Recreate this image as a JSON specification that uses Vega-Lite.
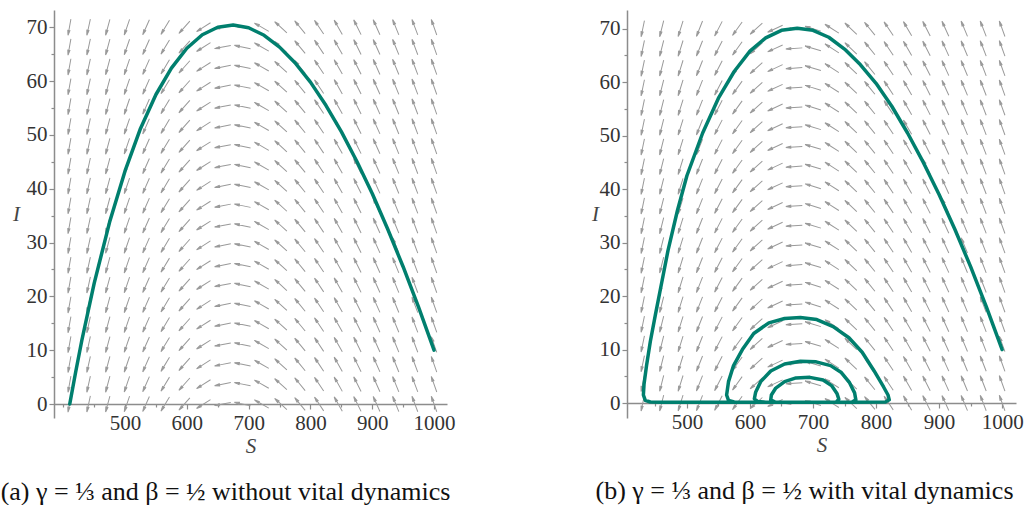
{
  "$schema": "https://vega.github.io/schema/vega-lite/v6.json",
  "background": "white",
  "padding": {"left": 0, "top": 10, "right": 0, "bottom": 0},
  "bounds": "flush",
  "spacing": 180,
  "config": {
    "view": {"stroke": null},
    "font": "Liberation Serif",
    "axis": {
      "grid": false,
      "labelFont": "Liberation Serif",
      "labelFontSize": 21,
      "labelColor": "#333333",
      "titleFont": "Liberation Serif",
      "titleFontStyle": "italic",
      "titleFontWeight": "normal",
      "titleFontSize": 21,
      "titleColor": "#444444",
      "domainColor": "#8c8c8c",
      "domainWidth": 1.5,
      "tickColor": "#8c8c8c",
      "tickWidth": 1.2
    }
  },
  "hconcat": [
    {
      "width": 393,
      "height": 408,
      "title": {"text": "(a) γ = ⅓ and β = ½ without vital dynamics", "orient": "bottom", "anchor": "middle", "font": "Liberation Serif", "fontSize": 26, "fontWeight": "normal", "color": "#111111", "offset": 23, "dx": -25},
      "resolve": {"axis": {"x": "independent", "y": "independent"}},
      "layer": [
        {
          "data": {"values": [
            {"S": 410, "a": 100.1, "I": [0,3.68,7.37,11.05,14.74,18.42,22.11,25.79,29.47,33.16,36.84,40.53,44.21,47.89,51.58,55.26,58.95,62.63,66.32,70]},
            {"S": 441, "a": 102.3, "I": [0,3.68,7.37,11.05,14.74,18.42,22.11,25.79,29.47,33.16,36.84,40.53,44.21,47.89,51.58,55.26,58.95,62.63,66.32,70]},
            {"S": 472, "a": 105.1, "I": [0,3.68,7.37,11.05,14.74,18.42,22.11,25.79,29.47,33.16,36.84,40.53,44.21,47.89,51.58,55.26,58.95,62.63,66.32,70]},
            {"S": 503, "a": 108.8, "I": [0,3.68,7.37,11.05,14.74,18.42,22.11,25.79,29.47,33.16,36.84,40.53,44.21,47.89,51.58,55.26,58.95,62.63,66.32,70]},
            {"S": 534, "a": 113.8, "I": [0,3.68,7.37,11.05,14.74,18.42,22.11,25.79,29.47,33.16,36.84,40.53,44.21,47.89,51.58,55.26,58.95,62.63,66.32,70]},
            {"S": 565, "a": 121.0, "I": [0,3.68,7.37,11.05,14.74,18.42,22.11,25.79,29.47,33.16,36.84,40.53,44.21,47.89,51.58,55.26,58.95,62.63,66.32,70]},
            {"S": 596, "a": 131.6, "I": [0,3.68,7.37,11.05,14.74,18.42,22.11,25.79,29.47,33.16,36.84,40.53,44.21,47.89,51.58,55.26,58.95,62.63,66.32,70]},
            {"S": 627, "a": 147.5, "I": [0,3.68,7.37,11.05,14.74,18.42,22.11,25.79,29.47,33.16,36.84,40.53,44.21,47.89,51.58,55.26,58.95,62.63,66.32,70]},
            {"S": 658, "a": 168.9, "I": [0,3.68,7.37,11.05,14.74,18.42,22.11,25.79,29.47,33.16,36.84,40.53,44.21,47.89,51.58,55.26,58.95,62.63,66.32,70]},
            {"S": 690, "a": 191.6, "I": [0,3.68,7.37,11.05,14.74,18.42,22.11,25.79,29.47,33.16,36.84,40.53,44.21,47.89,51.58,55.26,58.95,62.63,66.32,70]},
            {"S": 721, "a": 209.7, "I": [0,3.68,7.37,11.05,14.74,18.42,22.11,25.79,29.47,33.16,36.84,40.53,44.21,47.89,51.58,55.26,58.95,62.63,66.32,70]},
            {"S": 752, "a": 222.2, "I": [0,3.68,7.37,11.05,14.74,18.42,22.11,25.79,29.47,33.16,36.84,40.53,44.21,47.89,51.58,55.26,58.95,62.63,66.32,70]},
            {"S": 783, "a": 230.6, "I": [0,3.68,7.37,11.05,14.74,18.42,22.11,25.79,29.47,33.16,36.84,40.53,44.21,47.89,51.58,55.26,58.95,62.63,66.32,70]},
            {"S": 814, "a": 236.4, "I": [0,3.68,7.37,11.05,14.74,18.42,22.11,25.79,29.47,33.16,36.84,40.53,44.21,47.89,51.58,55.26,58.95,62.63,66.32,70]},
            {"S": 845, "a": 240.5, "I": [0,3.68,7.37,11.05,14.74,18.42,22.11,25.79,29.47,33.16,36.84,40.53,44.21,47.89,51.58,55.26,58.95,62.63,66.32,70]},
            {"S": 876, "a": 243.6, "I": [0,3.68,7.37,11.05,14.74,18.42,22.11,25.79,29.47,33.16,36.84,40.53,44.21,47.89,51.58,55.26,58.95,62.63,66.32,70]},
            {"S": 907, "a": 246.0, "I": [0,3.68,7.37,11.05,14.74,18.42,22.11,25.79,29.47,33.16,36.84,40.53,44.21,47.89,51.58,55.26,58.95,62.63,66.32,70]},
            {"S": 938, "a": 247.9, "I": [0,3.68,7.37,11.05,14.74,18.42,22.11,25.79,29.47,33.16,36.84,40.53,44.21,47.89,51.58,55.26,58.95,62.63,66.32,70]},
            {"S": 969, "a": 249.4, "I": [0,3.68,7.37,11.05,14.74,18.42,22.11,25.79,29.47,33.16,36.84,40.53,44.21,47.89,51.58,55.26,58.95,62.63,66.32,70]},
            {"S": 1000, "a": 250.6, "I": [0,3.68,7.37,11.05,14.74,18.42,22.11,25.79,29.47,33.16,36.84,40.53,44.21,47.89,51.58,55.26,58.95,62.63,66.32,70]}
          ]},
          "transform": [{"flatten": ["I"]}],
          "mark": {"type": "point", "shape": "M-1,0L0.5,0M1,0L0.4,-0.13L0.4,0.13Z", "size": 272, "filled": true, "fill": "#9a9a9a", "stroke": "#9a9a9a", "strokeWidth": 1, "opacity": 1},
          "encoding": {
            "x": {"field": "S", "type": "quantitative", "scale": {"domain": [385, 1021], "nice": false, "zero": false},
                  "axis": {"orient": "bottom", "values": [500, 600, 700, 800, 900, 1000], "format": "d", "offset": -14, "tickSize": 5, "labelPadding": 3, "title": "S", "titlePadding": 2}},
            "y": {"field": "I", "type": "quantitative", "scale": {"domain": [-2.6, 73.2], "nice": false, "zero": false},
                  "axis": {"orient": "left", "values": [0, 10, 20, 30, 40, 50, 60, 70], "tickSize": 5, "labelPadding": 2, "title": "I", "titleAngle": 0, "titlePadding": 10, "titleBaseline": "middle"}},
            "angle": {"field": "a", "type": "quantitative", "scale": null}
          }
        },
        {
          "data": {"values": [
            {"S": 410.5, "I": 0}, {"S": 420, "I": 5.9}, {"S": 430, "I": 11.8}, {"S": 450, "I": 22.4}, {"S": 475, "I": 33.8},
            {"S": 500, "I": 43.3}, {"S": 525, "I": 51.2}, {"S": 550, "I": 57.5}, {"S": 575, "I": 62.4}, {"S": 600, "I": 66.1},
            {"S": 625, "I": 68.6}, {"S": 650, "I": 70.0}, {"S": 675, "I": 70.4}, {"S": 700, "I": 69.9}, {"S": 725, "I": 68.5},
            {"S": 750, "I": 66.3}, {"S": 775, "I": 63.4}, {"S": 800, "I": 59.8}, {"S": 825, "I": 55.5}, {"S": 850, "I": 50.6},
            {"S": 875, "I": 45.1}, {"S": 900, "I": 39.1}, {"S": 925, "I": 32.5}, {"S": 950, "I": 25.5}, {"S": 975, "I": 18.0},
            {"S": 1000, "I": 10}
          ]},
          "mark": {"type": "line", "color": "#007f6e", "strokeWidth": 3.5, "strokeCap": "round", "strokeJoin": "round"},
          "encoding": {
            "x": {"field": "S", "type": "quantitative", "scale": {"domain": [385, 1021], "nice": false, "zero": false},
                  "axis": {"orient": "bottom", "values": [400, 450, 550, 650, 750, 850, 950], "offset": -14, "tickSize": 3, "labels": false, "domain": false, "title": null}},
            "y": {"field": "I", "type": "quantitative", "scale": {"domain": [-2.6, 73.2], "nice": false, "zero": false},
                  "axis": {"orient": "left", "values": [5, 15, 25, 35, 45, 55, 65], "tickSize": 3, "labels": false, "domain": false, "title": null}},
            "order": {"value": null}
          }
        }
      ]
    },
    {
      "width": 389,
      "height": 408,
      "title": {"text": "(b) γ = ⅓ and β = ½ with vital dynamics", "orient": "bottom", "anchor": "middle", "font": "Liberation Serif", "fontSize": 26, "fontWeight": "normal", "color": "#111111", "offset": 23, "dx": -17},
      "resolve": {"axis": {"x": "independent", "y": "independent"}},
      "layer": [
        {
          "data": {"values": [
            {"S": 430, "a": 101.7, "I": [0,3.68,7.37,11.05,14.74,18.42,22.11,25.79,29.47,33.16,36.84,40.53,44.21,47.89,51.58,55.26,58.95,62.63,66.32,70]},
            {"S": 460, "a": 104.1, "I": [0,3.68,7.37,11.05,14.74,18.42,22.11,25.79,29.47,33.16,36.84,40.53,44.21,47.89,51.58,55.26,58.95,62.63,66.32,70]},
            {"S": 490, "a": 107.3, "I": [0,3.68,7.37,11.05,14.74,18.42,22.11,25.79,29.47,33.16,36.84,40.53,44.21,47.89,51.58,55.26,58.95,62.63,66.32,70]},
            {"S": 520, "a": 111.6, "I": [0,3.68,7.37,11.05,14.74,18.42,22.11,25.79,29.47,33.16,36.84,40.53,44.21,47.89,51.58,55.26,58.95,62.63,66.32,70]},
            {"S": 550, "a": 117.4, "I": [0,3.68,7.37,11.05,14.74,18.42,22.11,25.79,29.47,33.16,36.84,40.53,44.21,47.89,51.58,55.26,58.95,62.63,66.32,70]},
            {"S": 580, "a": 125.7, "I": [0,3.68,7.37,11.05,14.74,18.42,22.11,25.79,29.47,33.16,36.84,40.53,44.21,47.89,51.58,55.26,58.95,62.63,66.32,70]},
            {"S": 610, "a": 137.9, "I": [0,3.68,7.37,11.05,14.74,18.42,22.11,25.79,29.47,33.16,36.84,40.53,44.21,47.89,51.58,55.26,58.95,62.63,66.32,70]},
            {"S": 640, "a": 155.1, "I": [0,3.68,7.37,11.05,14.74,18.42,22.11,25.79,29.47,33.16,36.84,40.53,44.21,47.89,51.58,55.26,58.95,62.63,66.32,70]},
            {"S": 670, "a": 176.4, "I": [0,3.68,7.37,11.05,14.74,18.42,22.11,25.79,29.47,33.16,36.84,40.53,44.21,47.89,51.58,55.26,58.95,62.63,66.32,70]},
            {"S": 700, "a": 196.9, "I": [0,3.68,7.37,11.05,14.74,18.42,22.11,25.79,29.47,33.16,36.84,40.53,44.21,47.89,51.58,55.26,58.95,62.63,66.32,70]},
            {"S": 730, "a": 212.6, "I": [0,3.68,7.37,11.05,14.74,18.42,22.11,25.79,29.47,33.16,36.84,40.53,44.21,47.89,51.58,55.26,58.95,62.63,66.32,70]},
            {"S": 760, "a": 223.5, "I": [0,3.68,7.37,11.05,14.74,18.42,22.11,25.79,29.47,33.16,36.84,40.53,44.21,47.89,51.58,55.26,58.95,62.63,66.32,70]},
            {"S": 790, "a": 231.0, "I": [0,3.68,7.37,11.05,14.74,18.42,22.11,25.79,29.47,33.16,36.84,40.53,44.21,47.89,51.58,55.26,58.95,62.63,66.32,70]},
            {"S": 820, "a": 236.3, "I": [0,3.68,7.37,11.05,14.74,18.42,22.11,25.79,29.47,33.16,36.84,40.53,44.21,47.89,51.58,55.26,58.95,62.63,66.32,70]},
            {"S": 850, "a": 240.2, "I": [0,3.68,7.37,11.05,14.74,18.42,22.11,25.79,29.47,33.16,36.84,40.53,44.21,47.89,51.58,55.26,58.95,62.63,66.32,70]},
            {"S": 880, "a": 243.2, "I": [0,3.68,7.37,11.05,14.74,18.42,22.11,25.79,29.47,33.16,36.84,40.53,44.21,47.89,51.58,55.26,58.95,62.63,66.32,70]},
            {"S": 910, "a": 245.5, "I": [0,3.68,7.37,11.05,14.74,18.42,22.11,25.79,29.47,33.16,36.84,40.53,44.21,47.89,51.58,55.26,58.95,62.63,66.32,70]},
            {"S": 940, "a": 247.3, "I": [0,3.68,7.37,11.05,14.74,18.42,22.11,25.79,29.47,33.16,36.84,40.53,44.21,47.89,51.58,55.26,58.95,62.63,66.32,70]},
            {"S": 970, "a": 248.8, "I": [0,3.68,7.37,11.05,14.74,18.42,22.11,25.79,29.47,33.16,36.84,40.53,44.21,47.89,51.58,55.26,58.95,62.63,66.32,70]},
            {"S": 1000, "a": 250.1, "I": [0,3.68,7.37,11.05,14.74,18.42,22.11,25.79,29.47,33.16,36.84,40.53,44.21,47.89,51.58,55.26,58.95,62.63,66.32,70]}
          ]},
          "transform": [{"flatten": ["I"]}],
          "mark": {"type": "point", "shape": "M-1,0L0.5,0M1,0L0.4,-0.13L0.4,0.13Z", "size": 272, "filled": true, "fill": "#9a9a9a", "stroke": "#9a9a9a", "strokeWidth": 1, "opacity": 1},
          "encoding": {
            "x": {"field": "S", "type": "quantitative", "scale": {"domain": [405, 1022], "nice": false, "zero": false},
                  "axis": {"orient": "bottom", "values": [500, 600, 700, 800, 900, 1000], "format": "d", "offset": -15, "tickSize": 5, "labelPadding": 3, "title": "S", "titlePadding": 2}},
            "y": {"field": "I", "type": "quantitative", "scale": {"domain": [-2.8, 73.5], "nice": false, "zero": false},
                  "axis": {"orient": "left", "values": [0, 10, 20, 30, 40, 50, 60, 70], "tickSize": 5, "labelPadding": 2, "title": "I", "titleAngle": 0, "titlePadding": 4, "titleBaseline": "middle"}},
            "angle": {"field": "a", "type": "quantitative", "scale": null}
          }
        },
        {
          "data": {"values": [
            {"S": 1000, "I": 10}, {"S": 975, "I": 18}, {"S": 950, "I": 25.5}, {"S": 925, "I": 32.5}, {"S": 900, "I": 39},
            {"S": 875, "I": 45}, {"S": 850, "I": 50.5}, {"S": 825, "I": 55.5}, {"S": 800, "I": 59.8}, {"S": 775, "I": 63.3},
            {"S": 750, "I": 66.2}, {"S": 725, "I": 68.4}, {"S": 700, "I": 69.7}, {"S": 675, "I": 70.1}, {"S": 650, "I": 69.7},
            {"S": 625, "I": 68.3}, {"S": 600, "I": 65.8}, {"S": 575, "I": 62}, {"S": 550, "I": 57}, {"S": 525, "I": 50.5},
            {"S": 500, "I": 42.5}, {"S": 485, "I": 36}, {"S": 470, "I": 28.5}, {"S": 460, "I": 22.5}, {"S": 450, "I": 16.5},
            {"S": 442, "I": 11.5}, {"S": 436, "I": 7}, {"S": 432, "I": 3.5}, {"S": 431, "I": 1.5}, {"S": 434, "I": 0.5},
            {"S": 442, "I": 0.2}, {"S": 460, "I": 0.15}, {"S": 600, "I": 0.15}, {"S": 760, "I": 0.15}, {"S": 815, "I": 0.2},
            {"S": 821, "I": 0.6}, {"S": 819, "I": 1.5}, {"S": 812, "I": 3}, {"S": 797, "I": 6}, {"S": 778, "I": 9.5},
            {"S": 757, "I": 12.2}, {"S": 732, "I": 14.3}, {"S": 706, "I": 15.6}, {"S": 680, "I": 16}, {"S": 655, "I": 15.8},
            {"S": 630, "I": 15}, {"S": 606, "I": 13}, {"S": 588, "I": 10}, {"S": 574, "I": 7}, {"S": 566, "I": 4},
            {"S": 563, "I": 1.5}, {"S": 566, "I": 0.5}, {"S": 575, "I": 0.2}, {"S": 600, "I": 0.15}, {"S": 700, "I": 0.15},
            {"S": 762, "I": 0.2}, {"S": 768, "I": 0.6}, {"S": 766, "I": 1.9}, {"S": 758, "I": 3.8}, {"S": 745, "I": 5.7},
            {"S": 728, "I": 7}, {"S": 705, "I": 7.7}, {"S": 680, "I": 7.8}, {"S": 655, "I": 7.3}, {"S": 633, "I": 6},
            {"S": 617, "I": 4}, {"S": 609, "I": 2}, {"S": 607, "I": 0.8}, {"S": 612, "I": 0.3}, {"S": 625, "I": 0.15},
            {"S": 700, "I": 0.15}, {"S": 737, "I": 0.2}, {"S": 741, "I": 0.7}, {"S": 738, "I": 1.8}, {"S": 730, "I": 3.2},
            {"S": 716, "I": 4.3}, {"S": 695, "I": 4.8}, {"S": 673, "I": 4.7}, {"S": 655, "I": 4}, {"S": 641, "I": 2.8},
            {"S": 634, "I": 1.5}, {"S": 633, "I": 0.6}, {"S": 640, "I": 0.2}, {"S": 660, "I": 0.15}
          ]},
          "mark": {"type": "line", "color": "#007f6e", "strokeWidth": 3.5, "strokeCap": "round", "strokeJoin": "round"},
          "encoding": {
            "x": {"field": "S", "type": "quantitative", "scale": {"domain": [405, 1022], "nice": false, "zero": false},
                  "axis": {"orient": "bottom", "values": [450, 550, 650, 750, 850, 950], "offset": -15, "tickSize": 3, "labels": false, "domain": false, "title": null}},
            "y": {"field": "I", "type": "quantitative", "scale": {"domain": [-2.8, 73.5], "nice": false, "zero": false},
                  "axis": {"orient": "left", "values": [5, 15, 25, 35, 45, 55, 65], "tickSize": 3, "labels": false, "domain": false, "title": null}},
            "order": {"value": null}
          }
        }
      ]
    }
  ]
}
